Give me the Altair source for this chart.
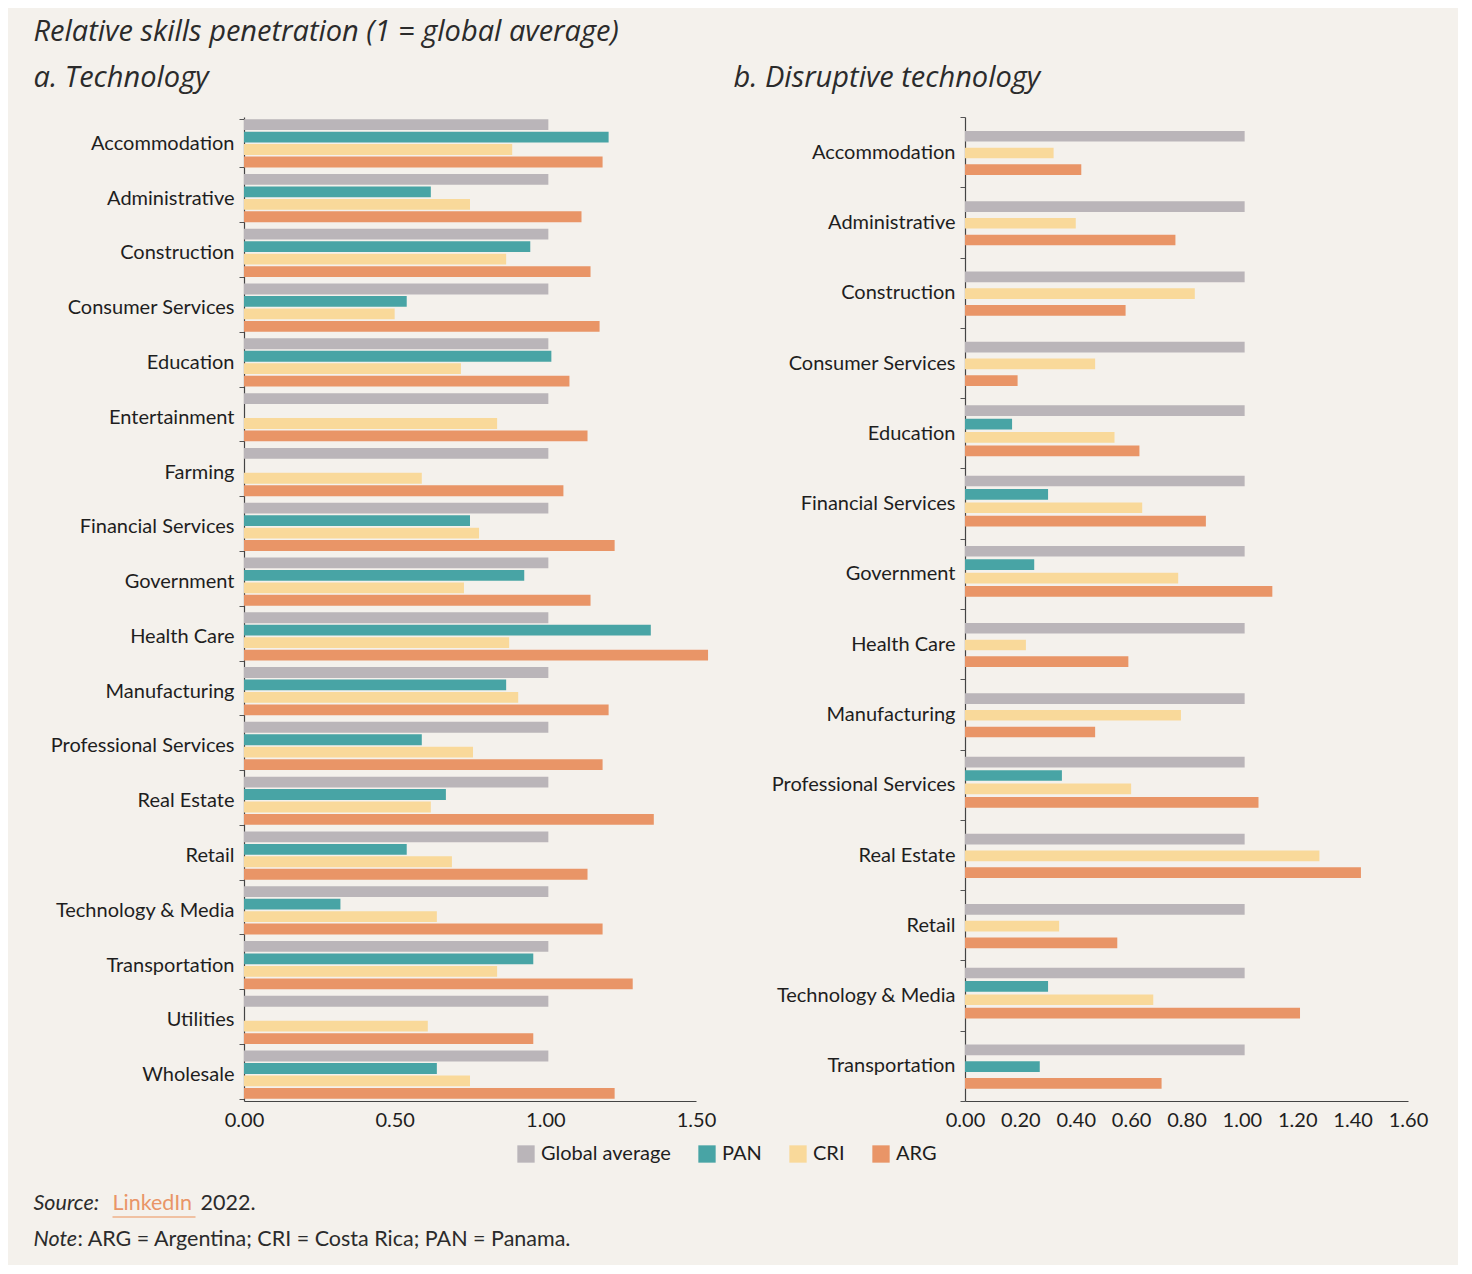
import altair as alt
import pandas as pd

series = ["Global average", "PAN", "CRI", "ARG"]
colors = ["#bab5b9", "#48a4a5", "#f9d99a", "#e99567"]

# a. Technology
tech_cats = [
    "Accommodation", "Administrative", "Construction", "Consumer Services",
    "Education", "Entertainment", "Farming", "Financial Services", "Government",
    "Health Care", "Manufacturing", "Professional Services", "Real Estate",
    "Retail", "Technology & Media", "Transportation", "Utilities", "Wholesale",
]
tech_global = [1.01, 1.01, 1.01, 1.01, 1.01, 1.01, 1.01, 1.01, 1.01,
               1.01, 1.01, 1.01, 1.01, 1.01, 1.01, 1.01, 1.01, 1.01]
tech_pan = [1.21, 0.62, 0.95, 0.54, 1.02, None, None, 0.75, 0.93,
            1.35, 0.87, 0.59, 0.67, 0.54, 0.32, 0.96, None, 0.64]
tech_cri = [0.89, 0.75, 0.87, 0.50, 0.72, 0.84, 0.59, 0.78, 0.73,
            0.88, 0.91, 0.76, 0.62, 0.69, 0.64, 0.84, 0.61, 0.75]
tech_arg = [1.19, 1.12, 1.15, 1.18, 1.08, 1.14, 1.06, 1.23, 1.15,
            1.54, 1.21, 1.19, 1.36, 1.14, 1.19, 1.29, 0.96, 1.23]

# b. Disruptive technology
dis_cats = [
    "Accommodation", "Administrative", "Construction", "Consumer Services",
    "Education", "Financial Services", "Government", "Health Care",
    "Manufacturing", "Professional Services", "Real Estate", "Retail",
    "Technology & Media", "Transportation",
]
dis_global = [1.01, 1.01, 1.01, 1.01, 1.01, 1.01, 1.01,
              1.01, 1.01, 1.01, 1.01, 1.01, 1.01, 1.01]
dis_pan = [None, None, None, None, 0.17, 0.30, 0.25,
           None, None, 0.35, None, None, 0.30, 0.27]
dis_cri = [0.32, 0.40, 0.83, 0.47, 0.54, 0.64, 0.77,
           0.22, 0.78, 0.60, 1.28, 0.34, 0.68, None]
dis_arg = [0.42, 0.76, 0.58, 0.19, 0.63, 0.87, 1.11,
           0.59, 0.47, 1.06, 1.43, 0.55, 1.21, 0.71]

FONT = "Lato"
TFONT = "Open Sans"
INK = "#1e1e1e"


def long_table(cats, cols):
    rows = []
    for name, vals in zip(series, cols):
        for c, v in zip(cats, vals):
            if v is not None:
                rows.append({"category": c, "series": name, "value": v})
    return pd.DataFrame(rows)


df_a = long_table(tech_cats, [tech_global, tech_pan, tech_cri, tech_arg])
df_b = long_table(dis_cats, [dis_global, dis_pan, dis_cri, dis_arg])

legend = alt.Legend(
    title=None, orient="none", legendX=272, legendY=1027, direction="horizontal",
    symbolType="square", symbolSize=300, symbolStrokeWidth=0,
    labelFontSize=20, labelFont=FONT, labelColor=INK, columnPadding=26, labelOffset=5,
)
color = alt.Color("series:N", scale=alt.Scale(domain=series, range=colors), legend=legend)


def y_axis():
    return alt.Axis(
        title=None, tickBand="extent", labelFontSize=20, labelFont=FONT, labelColor=INK,
        labelPadding=5, tickSize=5, tickColor="#555", domainColor="#444", domainWidth=1.2,
        labelLimit=400,
    )


def x_axis(vals):
    return alt.Axis(
        title=None, values=vals, format=".2f", ticks=False, grid=False, labelOverlap=False,
        labelFlush=False, labelFontSize=20, labelFont=FONT, labelColor=INK, labelPadding=9,
        domainColor="#444", domainWidth=1.2,
    )


def panel_title(text, dx):
    return alt.TitleParams(
        text, anchor="start", frame="group", dx=dx, offset=14, fontSize=29,
        fontStyle="italic", fontWeight="normal", font=TFONT, color="#2b2b2b",
    )


bars_a = (
    alt.Chart(df_a)
    .mark_bar()
    .encode(
        x=alt.X("value:Q", scale=alt.Scale(domain=[0, 1.5], nice=False), axis=x_axis([0, 0.5, 1, 1.5])),
        y=alt.Y("category:N", sort=tech_cats, scale=alt.Scale(paddingInner=0.12, paddingOuter=0.04), axis=y_axis()),
        yOffset=alt.YOffset("series:N", sort=series, scale=alt.Scale(domain=series, paddingInner=0.13)),
        color=color,
    )
)

one = alt.Data(values=[{}])


def txt(text, x, y, italic=False, col="#2b2b2b"):
    return (
        alt.Chart(one)
        .mark_text(align="left", baseline="middle", fontSize=21.5, font=FONT,
                   fontStyle="italic" if italic else "normal", color=col)
        .encode(x=alt.value(x), y=alt.value(y), text=alt.value(text))
    )


# source and note sit under panel a (coordinates relative to its plot area)
X0 = -210.5
underline = (
    alt.Chart(one)
    .mark_rule(color="#efb08a", strokeWidth=1.5)
    .encode(x=alt.value(X0 + 79), x2=alt.value(X0 + 162), y=alt.value(1100))
)
footer = [
    txt("Source:", X0, 1087, italic=True),
    txt("LinkedIn", X0 + 79, 1087, col="#e99567"),
    underline,
    txt("2022.", X0 + 167, 1087),
    txt("Note", X0, 1123, italic=True),
    txt(": ARG = Argentina; CRI = Costa Rica; PAN = Panama.", X0 + 44, 1123),
]

left = alt.layer(bars_a, *footer, title=panel_title("a. Technology", -210.5)).properties(width=452, height=984)

# bars in panel b close up when a series is missing
right = (
    alt.Chart(df_b, title=panel_title("b. Disruptive technology", -231.6))
    .transform_calculate(order="indexof(['Global average', 'PAN', 'CRI', 'ARG'], datum.series)")
    .transform_window(rank="row_number()", groupby=["category"], sort=[{"field": "order"}])
    .transform_joinaggregate(n="count()", groupby=["category"])
    .transform_calculate(slot="datum.n == 4 ? 7 + 8 * (datum.rank - 1) : 11 + 10 * (datum.rank - 1)")
    .mark_bar(height=10.7)
    .encode(
        x=alt.X("value:Q", scale=alt.Scale(domain=[0, 1.6], nice=False),
                axis=x_axis([0, 0.2, 0.4, 0.6, 0.8, 1.0, 1.2, 1.4, 1.6])),
        y=alt.Y("category:N", sort=dis_cats, scale=alt.Scale(paddingInner=0, paddingOuter=0), axis=y_axis()),
        yOffset=alt.YOffset("slot:O", scale=alt.Scale(domain=list(range(42)), paddingInner=0, paddingOuter=0)),
        color=color,
    )
    .properties(width=443, height=984)
)

chart = (
    alt.hconcat(left, right, spacing=17)
    .resolve_scale(y="independent", yOffset="independent", x="independent")
    .properties(
        title=alt.TitleParams(
            "Relative skills penetration (1 = global average)", anchor="start", frame="bounds",
            offset=17, fontSize=29, fontStyle="italic", fontWeight="normal", font=TFONT, color="#2b2b2b",
        ),
        background="#f4f1ec",
        padding={"left": 25, "top": 10, "right": 30, "bottom": 14},
    )
    .configure_view(strokeWidth=0)
)

chart.save("out.html", embed_options={"renderer": "svg", "actions": False})
